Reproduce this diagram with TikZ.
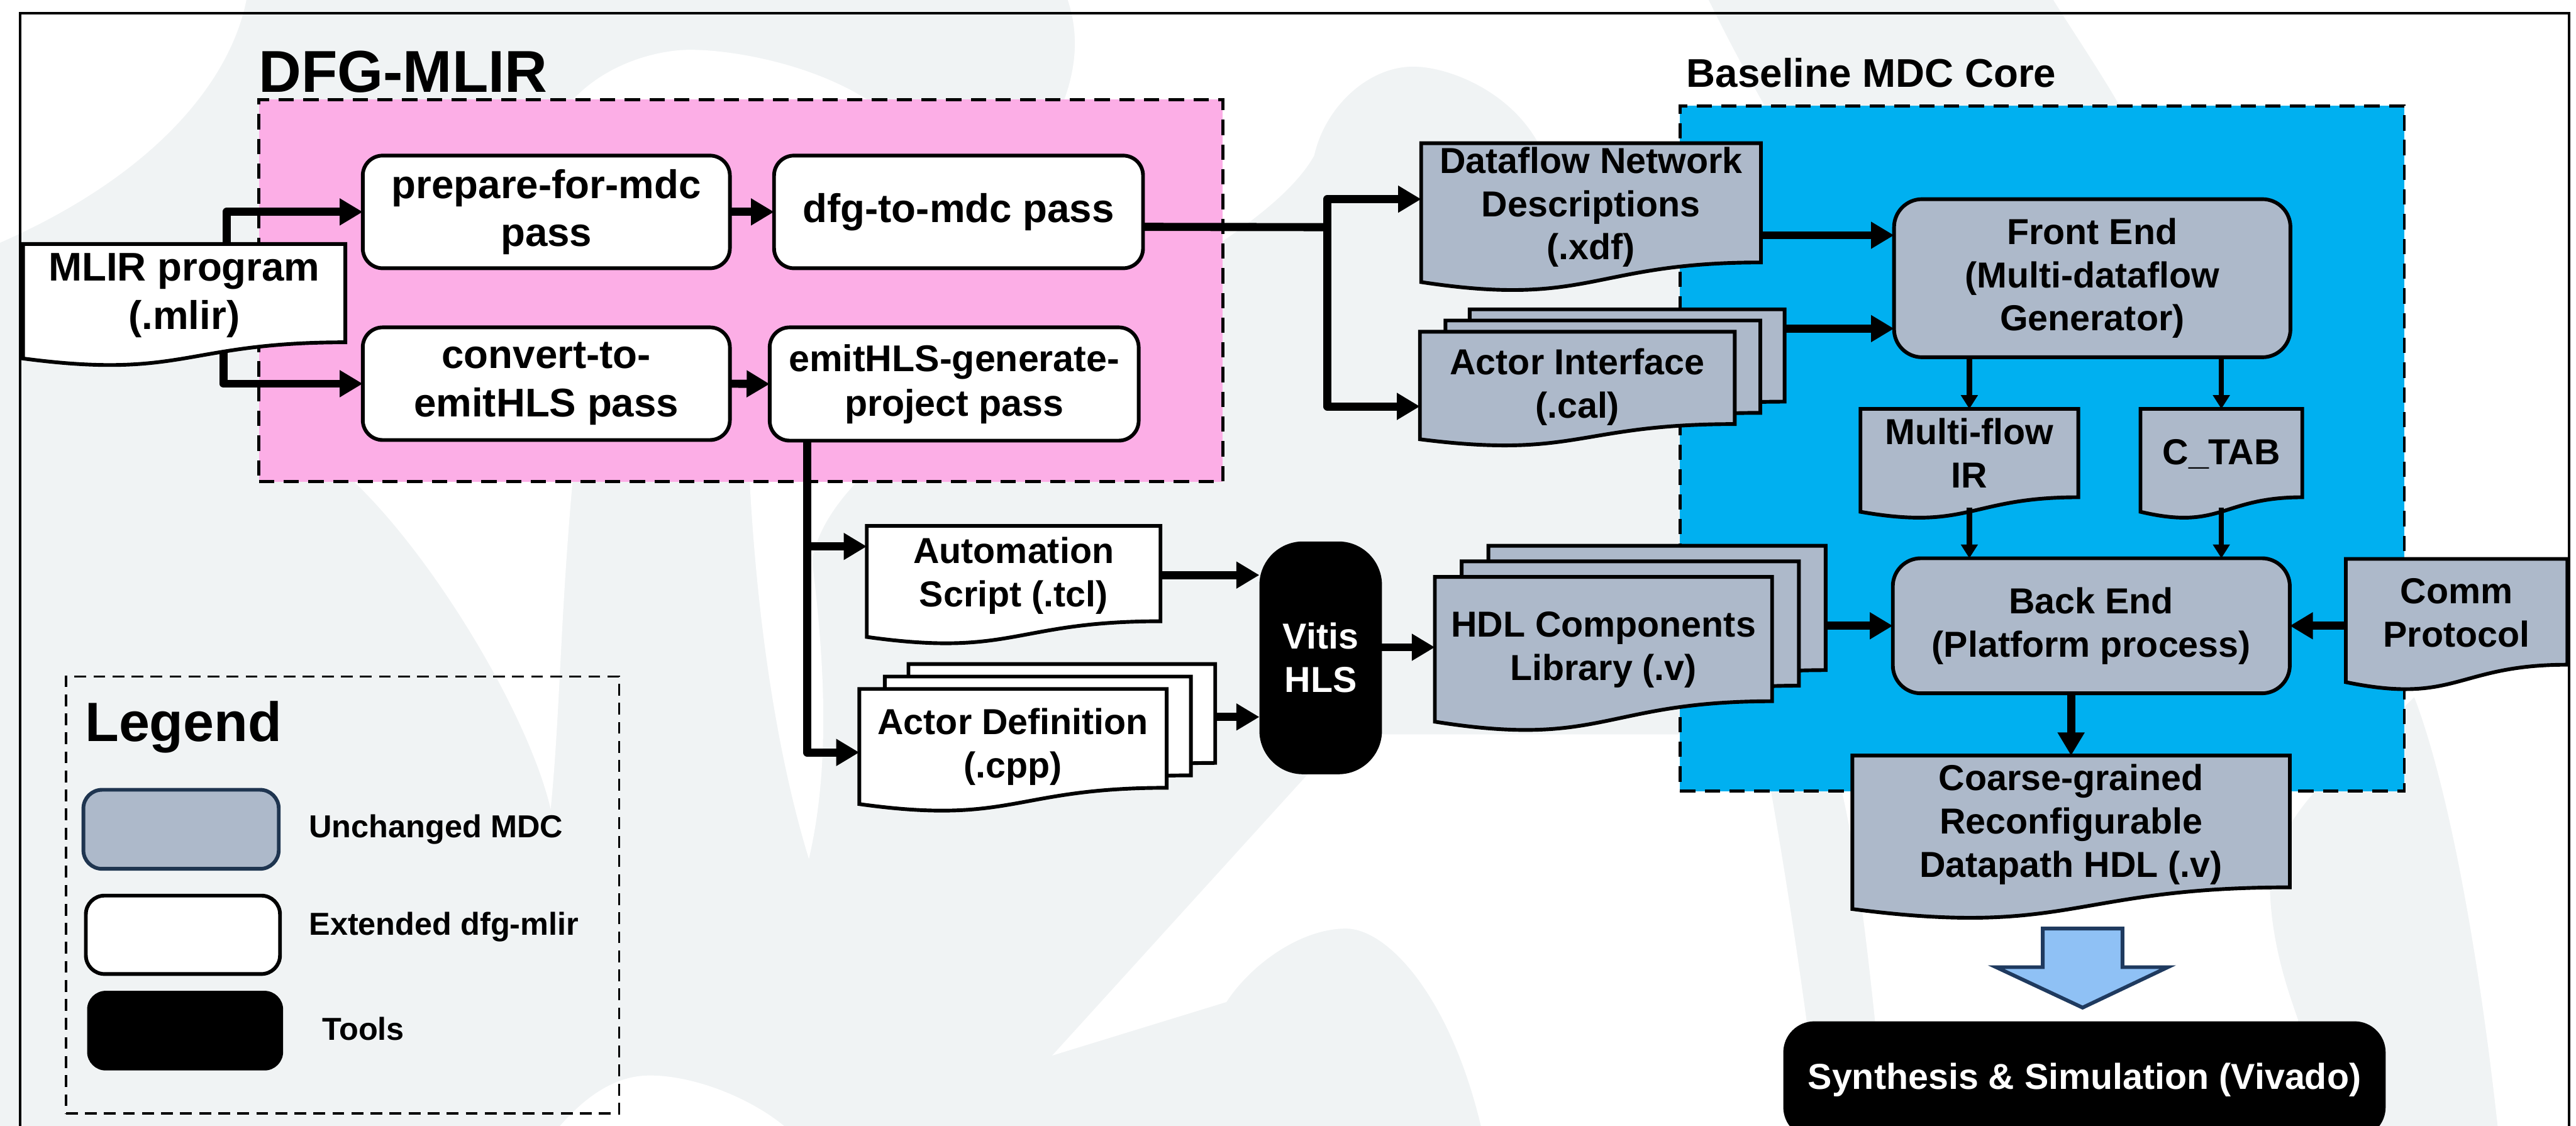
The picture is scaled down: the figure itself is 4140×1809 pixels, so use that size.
\documentclass[tikz,border=0pt]{standalone}
\usepackage{fontspec}
\setmainfont{Liberation Sans}
\usetikzlibrary{arrows.meta,calc}
\definecolor{pinkbg}{HTML}{FCAEE6}
\definecolor{bluebg}{HTML}{00B0F0}
\definecolor{mdcgray}{HTML}{ADB9CA}
\definecolor{navy}{HTML}{1F3550}
\definecolor{bgray}{HTML}{F0F3F4}
\definecolor{arrowblue}{HTML}{8FC1F5}
\definecolor{arrowedge}{HTML}{1F3A5F}

\newcommand\fsA{\bfseries\fontsize{16.5}{19.8}\selectfont}
\newcommand\fsB{\bfseries\fontsize{18.3}{22}\selectfont}
\newcommand\fsC{\bfseries\fontsize{17}{20.4}\selectfont}
\newcommand\fsL{\bfseries\fontsize{14.5}{17.4}\selectfont}

\tikzset{
 basebox/.style={inner sep=0pt, outer sep=0pt, align=center},
 passbox/.style={basebox, draw, line width=1.7pt, fill=white, rounded corners=0.32cm, font=\fsB},
 mdcbox/.style={basebox, draw, line width=1.7pt, fill=mdcgray, rounded corners=0.45cm, font=\fsA},
 toolbox/.style={basebox, fill=black, text=white, font=\fsA},
 docbase/.style={inner sep=0pt, outer sep=0pt, draw=none},
 docwhite/.style={draw, line width=1.7pt, fill=white},
 docgray/.style={draw, line width=1.7pt, fill=mdcgray},
 doctext/.style={align=center, inner sep=0pt, font=\fsA},
 bigarrow/.style={line width=3.7pt, line join=round, -{Triangle[length=3.7mm,width=4.1mm]}},
 plainline/.style={line width=3.7pt},
 smallarrow/.style={line width=2.4pt, -{Triangle[length=2.2mm,width=2.6mm]}},
 regionbox/.style={basebox, draw, line width=1.4pt, dash pattern=on 7pt off 4.3pt},
 watermark/.style={fill=white, draw=none},
}

\newcommand\rbox[7]{%
 \pgfmathsetmacro\dcW{(#4-#2)*0.01}\pgfmathsetmacro\dcH{(#5-#3)*0.01}%
 \node[#6, minimum width=\dcW cm, minimum height=\dcH cm] (#1) at ({(#2+#4)/2},{(#3+#5)/2}) {#7};}

\newcommand\docnode[9]{%
 \pgfmathsetmacro\dcW{(#4-#2)*0.01}\pgfmathsetmacro\dcH{(#5-#3)*0.01}%
 \node[docbase, minimum width=\dcW cm, minimum height=\dcH cm] (#1) at ({(#2+#4)/2},{(#3+#5)/2}) {};%
 \path[#6] (#1.north west) -- (#1.north east) -- ($(#1.north east)!0.802!(#1.south east)$)
  .. controls ($(#1.north)!0.802!(#1.south)$) and ($(#1.north)!1.1075!(#1.south)$) .. ($(#1.north west)!0.934!(#1.south west)$) -- cycle;%
 \node[doctext,#8] (#1T) at ($(#1.north)!#7!(#1.south)$) {#9};}

\begin{document}
\begin{tikzpicture}[x=0.01cm,y=-0.01cm]
\useasboundingbox (0,0) rectangle (4140,1809);
\fill[bgray] (0,0) rectangle (4140,1809);
% faint watermark swooshes
\fill[watermark] (0,0) -- (396,0) .. controls (370,130) and (250,280) .. (0,390) -- cycle;
\fill[watermark] (871,240) .. controls (920,110) and (1050,80) .. (1109,80) .. controls (1200,80) and (1400,120) .. (1479,240)
  .. controls (1300,500) and (950,650) .. (920,776) .. controls (900,1000) and (900,1150) .. (885,1300)
  .. controls (850,1150) and (700,900) .. (571,776) .. controls (600,600) and (800,400) .. (871,240) -- cycle;
\fill[watermark] (900,1809) .. controls (960,1740) and (1010,1728) .. (1045,1728) .. controls (1110,1728) and (1200,1760) .. (1260,1809) -- cycle;
\fill[watermark] (1716,0) -- (2746,0) .. controls (2790,90) and (2830,160) .. (2870,230) -- (2482,250)
  .. controls (2440,150) and (2330,107) .. (2271,107) .. controls (2200,107) and (2130,170) .. (2112,250)
  .. controls (2000,450) and (1350,650) .. (1305,900) .. controls (1330,1100) and (1330,1250) .. (1300,1380)
  .. controls (1260,1250) and (1220,1050) .. (1205,776) .. controls (1400,500) and (1800,250) .. (1716,0) -- cycle;
\fill[watermark] (2160,1180) -- (2830,1180) .. controls (2870,1400) and (2900,1600) .. (2925,1809) -- (2380,1809)
  .. controls (2330,1600) and (2230,1492) .. (2163,1492) .. controls (2090,1492) and (2010,1550) .. (1971,1610)
  -- (1691,1696) -- cycle;
\fill[watermark] (3300,0) -- (4140,0) -- (4140,1809) -- (4014,1809) .. controls (3980,1500) and (3930,1250) .. (3880,1120)
  .. controls (3800,1200) and (3650,1300) .. (3648,1426) .. controls (3650,1520) and (3680,1600) .. (3693,1638)
  -- (3693,1809) -- (3030,1809) .. controls (3010,1600) and (2990,1400) .. (2960,1271) -- (3400,800) -- (3450,250)
  .. controls (3400,150) and (3350,80) .. (3300,0) -- cycle;

\draw[line width=1.1pt] (32,1830) -- (32,21) -- (4129,21) -- (4129,1830);

% regions
\rbox{dfgregion}{416}{160}{1965}{774}{regionbox, fill=pinkbg}{}
\node[anchor=base west, inner sep=0pt, font=\bfseries\fontsize{27}{32}\selectfont] (dfgtitle) at (415,148) {DFG-MLIR};
\rbox{mdcregion}{2700}{170}{3864}{1271}{regionbox, fill=bluebg}{}
\node[anchor=base west, inner sep=0pt, font=\fsB] (mdctitle) at (2710,140) {Baseline MDC Core};

% legend
\rbox{legendbox}{106}{1087}{995}{1789}{basebox, draw, line width=1.1pt, dash pattern=on 5.4pt off 3.3pt}{}
\node[anchor=base west, inner sep=0pt, font=\bfseries\fontsize{25.3}{30}\selectfont] (legtitle) at (136,1191) {Legend};
\rbox{leg1}{134}{1269}{448}{1396}{basebox, draw=navy, fill=mdcgray, line width=1.7pt, rounded corners=0.3cm}{}
\rbox{leg2}{138}{1439}{450}{1565}{basebox, draw, fill=white, line width=1.7pt, rounded corners=0.3cm}{}
\rbox{leg3}{140}{1592}{455}{1720}{basebox, fill=black, rounded corners=0.3cm}{}
\node[anchor=west, inner sep=0pt, font=\fsL] (leg1t) at (496,1333) {Unchanged MDC};
\node[anchor=west, inner sep=0pt, font=\fsL] (leg2t) at (496,1489) {Extended dfg-mlir};
\node[anchor=west, inner sep=0pt, font=\fsL] (leg3t) at (517,1653) {Tools};

% dfg-mlir passes
\rbox{pfm}{583}{250}{1173}{431}{passbox}{prepare-for-mdc\\pass}
\rbox{d2m}{1244}{250}{1837}{431}{passbox}{dfg-to-mdc pass}
\rbox{c2e}{583}{526}{1173}{707}{passbox}{convert-to-\\emitHLS pass}
\rbox{egp}{1237}{526}{1830}{708}{passbox, font=\fsC}{emitHLS-generate-\\project pass}

\docnode{mlir}{37}{392}{555}{589}{docwhite}{0.42}{font=\fsB}{MLIR program\\(.mlir)}

% MDC side
\docnode{dfnd}{2284}{230}{2830}{469}{docgray}{0.43}{}{Dataflow Network\\Descriptions\\(.xdf)}
\docnode{actorB}{2362}{497}{2868}{682}{docgray}{0.5}{}{}
\docnode{actorM}{2323}{515}{2829}{700}{docgray}{0.5}{}{}
\docnode{actor}{2282}{533}{2788}{718}{docgray}{0.48}{}{Actor Interface\\(.cal)}
\rbox{fe}{3044}{320}{3681}{574}{mdcbox}{Front End\\(Multi-dataflow\\Generator)}
\docnode{mfir}{2990}{657}{3340}{834}{docgray}{0.40}{}{Multi-flow\\IR}
\docnode{ctab}{3440}{657}{3700}{834}{docgray}{0.41}{}{C\_TAB}
\rbox{be}{3042}{897}{3680}{1114}{mdcbox}{Back End\\(Platform process)}
\docnode{comm}{3770}{898}{4126}{1110}{docgray}{0.41}{}{Comm\\Protocol}
\docnode{hdlB}{2392}{877}{2934}{1126}{docgray}{0.5}{}{}
\docnode{hdlM}{2349}{902}{2891}{1151}{docgray}{0.5}{}{}
\docnode{hdl}{2306}{927}{2848}{1176}{docgray}{0.47}{}{HDL Components\\Library (.v)}
\docnode{cg}{2977}{1214}{3680}{1478}{docgray}{0.42}{}{Coarse-grained\\Reconfigurable\\Datapath HDL (.v)}

% HLS side
\docnode{auto}{1393}{845}{1865}{1036}{docwhite}{0.42}{}{Automation\\Script (.tcl)}
\docnode{adefB}{1460}{1067}{1953}{1265}{docwhite}{0.5}{}{}
\docnode{adefM}{1422}{1087}{1914}{1285}{docwhite}{0.5}{}{}
\docnode{adef}{1381}{1107}{1875}{1305}{docwhite}{0.47}{}{Actor Definition\\(.cpp)}
\rbox{vitis}{2024}{870}{2221}{1244}{toolbox, rounded corners=0.7cm}{Vitis\\HLS}

% big blue arrow and synthesis
\draw[fill=arrowblue, draw=arrowedge, line width=1.7pt, line join=miter] (3283,1492) -- (3411,1492) -- (3411,1554) -- (3484,1554) -- (3347,1619) -- (3208,1554) -- (3283,1554) -- cycle;
\rbox{syn}{2866}{1641}{3834}{1829}{toolbox, rounded corners=0.5cm}{Synthesis \& Simulation (Vivado)}

% connectors
\draw[bigarrow] ($(mlir.north west)+(327,0)$) |- (pfm.west);
\draw[bigarrow] ($(mlir.north west)+(322,173)$) |- (c2e.west);
\draw[bigarrow] (pfm.east) -- (d2m.west);
\draw[bigarrow] (c2e.east) -- (egp.west);
\coordinate (split) at (2133,365);
\draw[plainline] ($(d2m.east)+(0,24)$) -- (split);
\draw[bigarrow] (split) |- ($(dfnd.north west)+(0,90)$);
\draw[bigarrow] (split) |- ($(actor.north west)+(0,120)$);
\coordinate (fe1) at ($(fe.north west)+(0,58)$);
\draw[bigarrow] (dfnd.east |- fe1) -- (fe1);
\coordinate (fe2) at ($(fe.north west)+(0,208)$);
\draw[bigarrow] (actorB.east |- fe2) -- (fe2);
\draw[smallarrow] (fe.south -| mfir.north) -- (mfir.north);
\draw[smallarrow] (fe.south -| ctab.north) -- (ctab.north);
\draw[smallarrow] ($(mfir.north)+(0,159)$) -- (be.north -| mfir.north);
\draw[smallarrow] ($(ctab.north)+(0,159)$) -- (be.north -| ctab.north);
\draw[bigarrow] (hdlB.east |- be.west) -- (be.west);
\draw[bigarrow] (comm.west |- be.east) -- (be.east);
\draw[bigarrow] (be.south -| cg.north) -- (cg.north);
\coordinate (eb) at ($(egp.south west)+(60,0)$);
\draw[bigarrow] (eb) |- ($(auto.north west)+(0,33)$);
\draw[bigarrow] (eb) |- ($(adef.north west)+(0,102)$);
\coordinate (v1) at ($(vitis.north west)+(0,54)$);
\draw[bigarrow] (auto.east |- v1) -- (v1);
\coordinate (v2) at ($(vitis.north west)+(0,282)$);
\draw[bigarrow] (adefB.east |- v2) -- (v2);
\coordinate (h1) at ($(vitis.east)+(0,-17)$);
\draw[bigarrow] (h1) -- (hdl.west |- h1);
\end{tikzpicture}
\end{document}
